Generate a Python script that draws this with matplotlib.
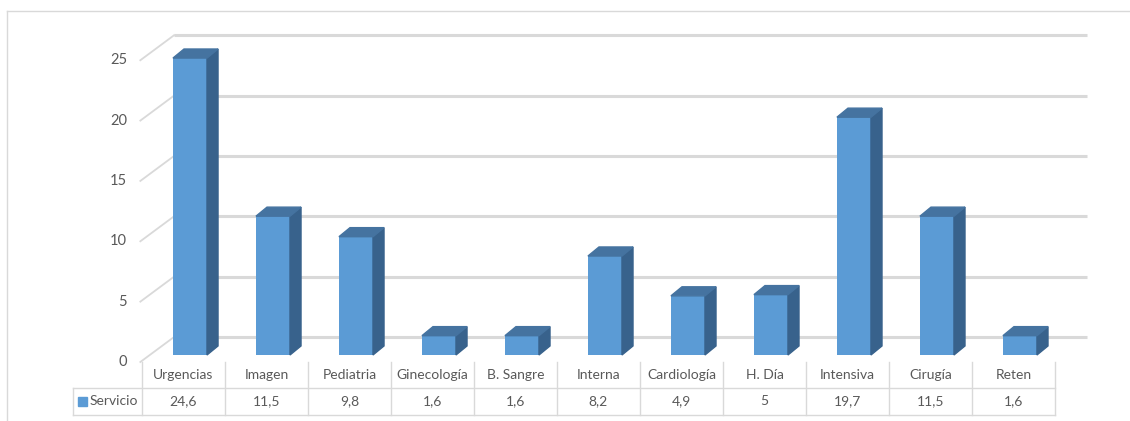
import matplotlib.pyplot as plt
from matplotlib.patches import Polygon, Rectangle
from matplotlib.lines import Line2D

categories = ["Urgencias", "Imagen", "Pediatria", "Ginecología", "B. Sangre", "Interna",
              "Cardiología", "H. Día", "Intensiva", "Cirugía", "Reten"]
values = [24.6, 11.5, 9.8, 1.6, 1.6, 8.2, 4.9, 5, 19.7, 11.5, 1.6]
value_labels = ["24,6", "11,5", "9,8", "1,6", "1,6", "8,2", "4,9", "5", "19,7", "11,5", "1,6"]
series_name = "Servicio"
y_ticks = [0, 5, 10, 15, 20, 25]

plt.rcParams['font.family'] = ['Lato', 'DejaVu Sans']

FRONT = '#5B9BD5'
SIDE = '#38628C'
TOP = '#4573A0'
GRID = '#D9D9D9'
TEXT = '#595959'
FS = 10

# fake 3d: depth of the floor and of each bar, in data units
DX, DY = 0.386, 2.07
BAR_W, BAR_SHIFT, BAR_BASE = 0.41, 0.078, 0.58
BDX, BDY = 0.133, 0.75

fig = plt.figure(figsize=(11.3, 4.21), dpi=100)
ax = fig.add_axes([0, 0, 1, 1])
ax.set_xlim(-2.211, 11.404)
ax.set_ylim(-4.888, 29.99)
ax.axis('off')

n = len(categories)
xs = list(range(n))

# back wall gridlines + slanted side ticks
for t in y_ticks:
    ax.plot([-0.5 + DX, n - 0.5 + DX], [t + DY, t + DY], color=GRID, lw=2.2, zorder=1,
            solid_capstyle='butt')
    ax.plot([-0.52, -0.5 + DX], [t, t + DY], color=GRID, lw=1.3, zorder=1)
    ax.text(-0.68, t, str(t), ha='right', va='center', fontsize=FS + 0.5, color=TEXT)

# bars: front face, then side and top
ax.bar([x + BAR_SHIFT for x in xs], values, width=BAR_W, bottom=BAR_BASE,
       color=FRONT, zorder=3)
for x, v in zip(xs, values):
    left = x + BAR_SHIFT - BAR_W / 2
    right = x + BAR_SHIFT + BAR_W / 2
    top = BAR_BASE + v
    ax.add_patch(Polygon([(right, BAR_BASE), (right, top), (right + BDX, top + BDY),
                          (right + BDX, BAR_BASE + BDY)], closed=True, color=SIDE, zorder=3))
    ax.add_patch(Polygon([(left, top), (right, top), (right + BDX, top + BDY),
                          (left + BDX, top + BDY)], closed=True, color=TOP, zorder=3))

# data table under the plot
row1, row2, row3 = -2.154, -4.39, 0
hdr_left = -1.331
for i in range(n + 1):
    ax.plot([i - 0.5, i - 0.5], [row3, row2], color=GRID, lw=1)
ax.plot([hdr_left, n - 0.5], [row1, row1], color=GRID, lw=1)
ax.plot([hdr_left, n - 0.5], [row2, row2], color=GRID, lw=1)
ax.plot([hdr_left, hdr_left], [row1, row2], color=GRID, lw=1)
for x, c, lab in zip(xs, categories, value_labels):
    ax.text(x, -1.08, c, ha='center', va='center', fontsize=FS, color=TEXT)
    ax.text(x, -3.25, lab, ha='center', va='center', fontsize=FS, color=TEXT)
ax.add_patch(Rectangle((-1.271, -3.65), 0.108, 0.75, color=FRONT))
ax.text(-1.13, -3.25, series_name, ha='left', va='center', fontsize=FS, color=TEXT)

# chart area frame
fig.add_artist(Line2D([0.0062, 1], [0.974, 0.974], color=GRID, lw=1))
fig.add_artist(Line2D([0.0062, 0.0062], [0, 0.974], color=GRID, lw=1))

fig.savefig('out.png', dpi=100)
